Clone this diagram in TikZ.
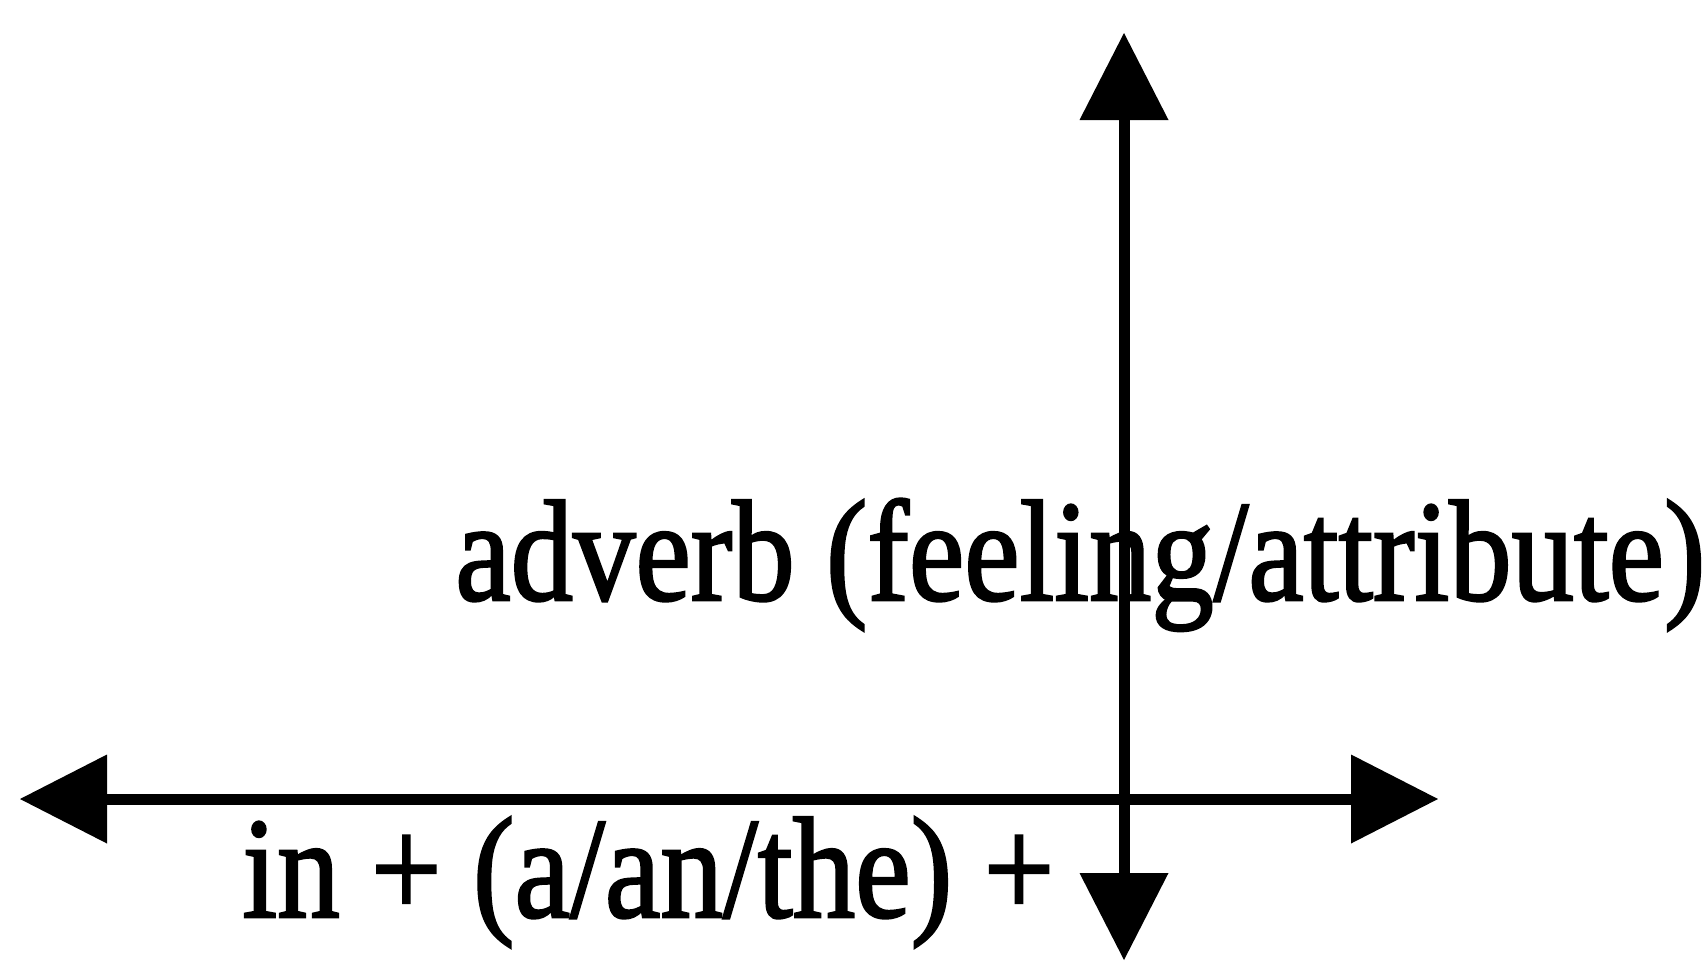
\documentclass[tikz,border=0pt]{standalone}
\usepackage{fontspec}
\setmainfont{Liberation Serif}
\newfontfamily\heavyserif[FakeBold=1.8]{Liberation Serif}
\usetikzlibrary{arrows.meta}
\tikzset{
  axis/.style={line width=5.5pt, line cap=butt,
    {Triangle[length=43.5pt,width=44.5pt,line width=0pt]}-{Triangle[length=43.5pt,width=44.5pt,line width=0pt]}},
  lbl/.style={inner sep=0pt, anchor=base west, font=\heavyserif\fontsize{72}{80}\selectfont}
}
\begin{document}
\begin{tikzpicture}[x=0.5pt,y=-0.5pt]
\useasboundingbox[fill=white] (0,0) rectangle (1708,964);
\coordinate (top) at (1124,33);
\coordinate (bottom) at (1124,960);
\coordinate (left) at (20,799);
\coordinate (right) at (1438,799);
\draw[axis] (left) -- (right);
\draw[axis] (bottom) -- (top);
\node[lbl] (adv) at (455,600) {\scalebox{0.866}[1]{adverb (feeling/attribute)}};
\node[lbl] (inart) at (242,917) {\scalebox{0.869}[1]{in + (a/an/the) +}};
\end{tikzpicture}
\end{document}
